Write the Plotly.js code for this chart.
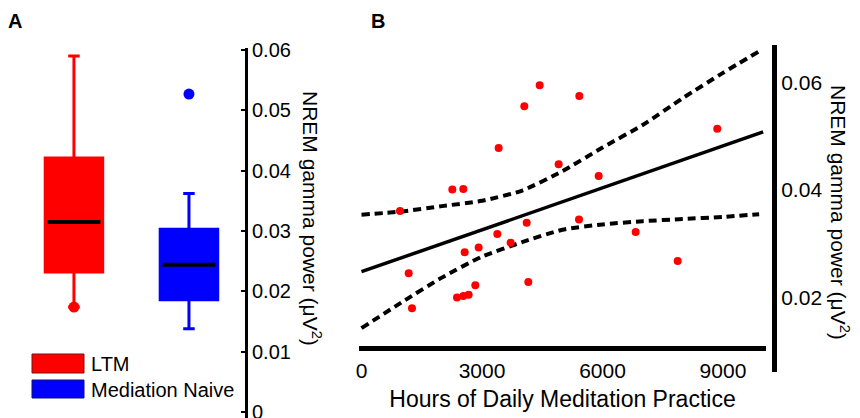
<!DOCTYPE html>
<html>
<head>
<meta charset="utf-8">
<script src="https://cdn.plot.ly/plotly-3.0.1.min.js"></script>
<style>html,body{margin:0;padding:0;background:#fff;}#chart{width:860px;height:418px;}</style>
</head>
<body>
<div id="chart"></div>
<script>
// ---- Panel A: box-plot summary statistics ----
const groups = ['LTM', 'Mediation Naive'];
const groupColors = ['#ff0000', '#0000ff'];
const boxQ1 = [0.0232, 0.0186];
const boxMedian = [0.0315, 0.0244];
const boxQ3 = [0.0421, 0.0303];
const boxLowerFence = [0.0174, 0.0138];
const boxUpperFence = [0.0590, 0.0362];
// individual dots drawn at the box plots (group index, value)
const dotGroup = [0, 1];
const dotValue = [0.0174, 0.0527];

// ---- Panel B: scatter of meditation hours vs gamma power ----
const hours = [958, 1175, 1257, 2261, 2535, 2569, 2378, 2535, 2668, 2834, 2917, 3382, 3415,
               3714, 4054, 4113, 4154, 4436, 4909, 5423, 5415, 5905, 6826, 7872, 8858];
const gamma = [0.0361, 0.0245, 0.0180, 0.0401, 0.0402, 0.0284, 0.0200, 0.0203, 0.0205, 0.0223,
               0.0293, 0.0318, 0.0478, 0.0302, 0.0556, 0.0339, 0.0229, 0.0595, 0.0448, 0.0575,
               0.0345, 0.0426, 0.0322, 0.0268, 0.0514];
const fitHours = [0, 10000];
const fitGamma = [0.0248, 0.0508];
const ciHours = [0, 1000, 2000, 3000, 4000, 5000, 6000, 7000, 8000, 9000, 9900];
const ciUpper = [0.0354, 0.0360, 0.0370, 0.0380, 0.0399, 0.0435, 0.0479, 0.0521, 0.0571, 0.0618, 0.0658];
const ciLower = [0.0143, 0.0191, 0.0237, 0.0276, 0.0303, 0.0326, 0.0336, 0.0342, 0.0346, 0.0350, 0.0355];

const xTickVals = [0, 3000, 6000, 9000];
const yTitle = 'NREM gamma power (\u03bcV<sup>2</sup>)';
const xTitle = 'Hours of Daily Meditation Practice';

const FONT = 'Liberation Sans, Arial, sans-serif';
const BOX_W = 0.5;

const traces = [];
groups.forEach((g, i) => {
  traces.push({
    type: 'box', name: g, x: [i],
    q1: [boxQ1[i]], median: [boxMedian[i]], q3: [boxQ3[i]],
    lowerfence: [boxLowerFence[i]], upperfence: [boxUpperFence[i]],
    width: BOX_W, whiskerwidth: 0.2,
    fillcolor: groupColors[i], line: {color: groupColors[i], width: 3},
    xaxis: 'x', yaxis: 'y', hoverinfo: 'skip', boxpoints: false
  });
  traces.push({
    type: 'scatter', mode: 'lines', x: [i - BOX_W / 2 + 0.02, i + BOX_W / 2 - 0.02],
    y: [boxMedian[i], boxMedian[i]], line: {color: '#000', width: 4},
    xaxis: 'x', yaxis: 'y', hoverinfo: 'skip'
  });
});
traces.push({
  type: 'scatter', mode: 'markers', x: dotGroup, y: dotValue,
  marker: {size: 11, color: dotGroup.map(k => groupColors[k])},
  xaxis: 'x', yaxis: 'y', hoverinfo: 'skip'
});

traces.push({
  type: 'scatter', mode: 'lines', x: ciHours, y: ciUpper, line: {shape: 'spline', smoothing: 0.6,
  color: '#000', width: 4, dash: '8px,5px'}, xaxis: 'x2', yaxis: 'y2'
});
traces.push({
  type: 'scatter', mode: 'lines', x: ciHours, y: ciLower, line: {shape: 'spline', smoothing: 0.6,
  color: '#000', width: 4, dash: '8px,5px'}, xaxis: 'x2', yaxis: 'y2'
});
traces.push({
  type: 'scatter', mode: 'lines', x: fitHours, y: fitGamma,
  line: {color: '#000', width: 3.5}, xaxis: 'x2', yaxis: 'y2'
});
traces.push({
  type: 'scatter', mode: 'markers', x: hours, y: gamma,
  marker: {size: 8, color: '#ff0000'}, xaxis: 'x2', yaxis: 'y2'
});

const W = 860, H = 418;
const px = v => v / W;
const py = v => 1 - v / H;

const layout = {
  width: W, height: H,
  margin: {l: 0, r: 0, t: 0, b: 0},
  paper_bgcolor: '#fff', plot_bgcolor: 'rgba(0,0,0,0)',
  showlegend: false,
  font: {family: FONT, color: '#000', size: 20},
  xaxis: {
    domain: [0, px(246)], range: [-0.643, 1.496], visible: false, fixedrange: true
  },
  yaxis: {
    domain: [0, py(48)], range: [-0.000995, 0.06033], anchor: 'free', position: px(246), side: 'right',
    showline: true, linecolor: '#000', linewidth: 3, ticks: 'inside', ticklen: 4, tickwidth: 2,
    tickcolor: '#000', dtick: 0.01, tick0: 0, showgrid: false, zeroline: false,
    ticklabeloverflow: 'allow',
    tickfont: {size: 20, family: FONT}
  },
  xaxis2: {
    domain: [px(359), px(766)], range: [-62, 10071], anchor: 'free', position: py(348),
    showline: true, linecolor: '#000', linewidth: 5, showgrid: false, zeroline: false,
    tickvals: xTickVals, tickformat: 'd', ticks: 'outside', ticklen: 2, tickcolor: 'rgba(0,0,0,0)',
    tickfont: {size: 21, family: FONT},
    title: {text: xTitle, font: {size: 23, family: FONT}, standoff: 9}
  },
  yaxis2: {
    domain: [py(372), py(45)], range: [0.00614, 0.06698], anchor: 'free', position: px(774), side: 'right',
    showline: true, linecolor: '#000', linewidth: 5, showgrid: false, zeroline: false,
    dtick: 0.02, tick0: 0, ticks: '',
    tickfont: {size: 21, family: FONT}
  },
  shapes: [
    {type: 'rect', xref: 'paper', yref: 'paper', x0: px(32), x1: px(84), y0: py(373), y1: py(354),
     fillcolor: groupColors[0], line: {color: '#7a1010', width: 1}},
    {type: 'rect', xref: 'paper', yref: 'paper', x0: px(32), x1: px(84), y0: py(398), y1: py(380),
     fillcolor: groupColors[1], line: {color: '#101070', width: 1}}
  ],
  annotations: [
    {text: '<b>A</b>', xref: 'paper', yref: 'paper', x: px(15), y: py(21), showarrow: false,
     font: {size: 20, family: FONT}, xanchor: 'center', yanchor: 'middle'},
    {text: '<b>B</b>', xref: 'paper', yref: 'paper', x: px(378), y: py(21), showarrow: false,
     font: {size: 20, family: FONT}, xanchor: 'center', yanchor: 'middle'},
    {text: groups[0], xref: 'paper', yref: 'paper', x: px(89), y: py(364), showarrow: false,
     font: {size: 20, family: FONT}, xanchor: 'left', yanchor: 'middle'},
    {text: groups[1], xref: 'paper', yref: 'paper', x: px(89), y: py(390), showarrow: false,
     font: {size: 20, family: FONT}, xanchor: 'left', yanchor: 'middle'},
    {text: yTitle, xref: 'paper', yref: 'paper', x: px(312), y: py(218), showarrow: false,
     textangle: 90, font: {size: 21, family: FONT}, xanchor: 'center', yanchor: 'middle'},
    {text: yTitle, xref: 'paper', yref: 'paper', x: px(840), y: py(212), showarrow: false,
     textangle: 90, font: {size: 21, family: FONT}, xanchor: 'center', yanchor: 'middle'}
  ]
};

Plotly.newPlot('chart', traces, layout, {staticPlot: true, displayModeBar: false});
</script>
</body>
</html>
